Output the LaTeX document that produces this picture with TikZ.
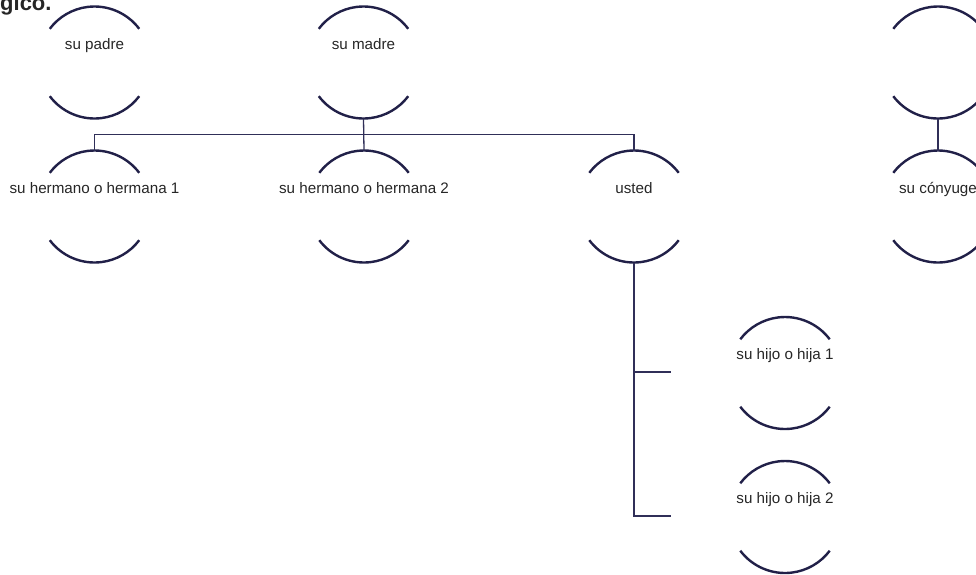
\documentclass[tikz,border=0pt]{standalone}
\usepackage{fontspec}
\setmainfont{Liberation Sans}
\definecolor{navy}{RGB}{33,32,72}
\definecolor{connc}{RGB}{48,47,88}
\definecolor{txt}{RGB}{38,38,38}
\tikzset{
  famc/.style={circle, minimum size=112pt, inner sep=0pt, outer sep=0pt, draw=none},
  arcl/.style={draw=navy, line width=2.4pt},
  famt/.style={anchor=base, text=txt, font=\fontsize{15.2pt}{18pt}\selectfont, inner sep=0pt},
  conn/.style={draw=connc, line width=1.3pt},
  ttl/.style={anchor=base west, text=txt, font=\bfseries\fontsize{22pt}{26pt}\selectfont, inner sep=0pt}
}
\newcommand\famnode[4]{%
  \node[famc] (#1) at (#2,#3) {};
  \draw[arcl] (#1.37) arc[start angle=37, end angle=143, radius=56pt];
  \draw[arcl] (#1.217) arc[start angle=217, end angle=323, radius=56pt];
  \node[famt] (#1t) at ([yshift=13.5pt]#1.center) {#4};
}
\begin{document}
\begin{tikzpicture}[x=1pt,y=1pt]
\useasboundingbox (0,0) rectangle (976,-574);
\clip (0,0) rectangle (976,-574);
\node[ttl] (title) at (0,-10) {gico.};
\famnode{padre}{94.5}{-62.5}{su padre}
\famnode{madre}{363.5}{-62.5}{su madre}
\famnode{spa}{938}{-62.5}{}
\famnode{hno1}{94.5}{-206.5}{su hermano o hermana 1}
\famnode{hno2}{364}{-206.5}{su hermano o hermana 2}
\famnode{usted}{634}{-206.5}{usted}
\famnode{cony}{938}{-206.5}{su cónyuge}
\famnode{hijo1}{785}{-373}{su hijo o hija 1}
\famnode{hijo2}{785}{-517}{su hijo o hija 2}
% parents to siblings
\draw[conn] (madre.south) -- (hno2.north);
\draw[conn] (hno1.north) -- ++(0,16) -| (usted.north);
% spouse
\draw[conn] (spa.south) -- (cony.north);
% children
\coordinate (k1) at (671,-372);
\coordinate (k2) at (671,-516);
\draw[conn] (usted.south) |- (k1);
\draw[conn] (usted.south) |- (k2);
\end{tikzpicture}
\end{document}
